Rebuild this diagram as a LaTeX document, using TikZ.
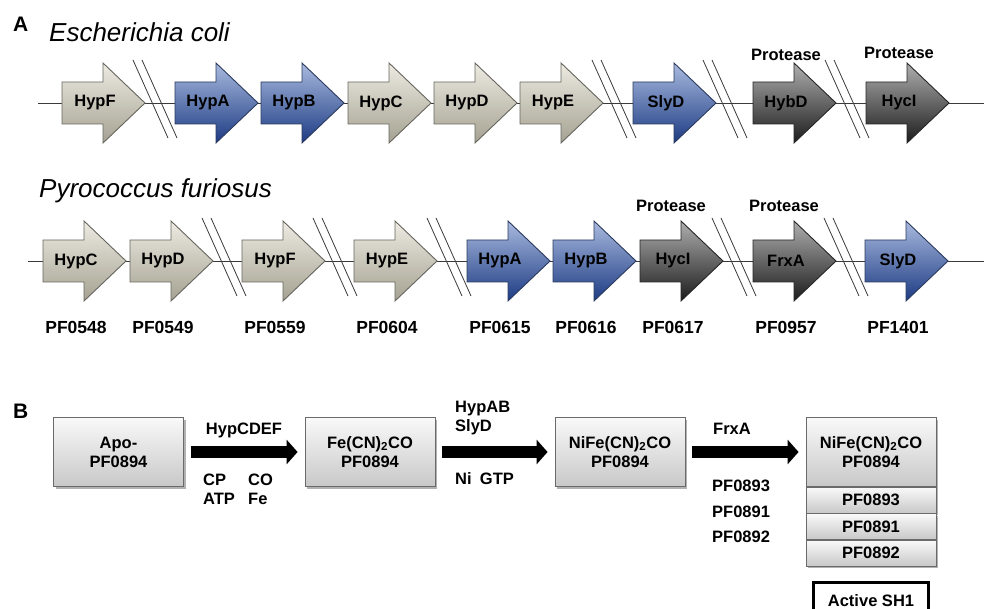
\documentclass[tikz,border=0pt]{standalone}
\usepackage{fontspec}
\setmainfont{Liberation Sans}
\usepackage{tikz}
\usetikzlibrary{arrows.meta,positioning,shadows}
\definecolor{tantop}{HTML}{EDEBE2}
\definecolor{tanbot}{HTML}{A5A292}
\definecolor{tanline}{HTML}{66655E}
\definecolor{bluetop}{HTML}{A9BADF}
\definecolor{bluebot}{HTML}{1D3B83}
\definecolor{blueline}{HTML}{2B3A5E}
\definecolor{darktop}{HTML}{AEAEAE}
\definecolor{darkbot}{HTML}{1C1C1C}
\definecolor{darkline}{HTML}{262626}
\definecolor{boxtop}{HTML}{F9F9F9}
\definecolor{boxbot}{HTML}{C8C8C8}
\definecolor{boxline}{HTML}{6A6A6A}
\definecolor{strand}{HTML}{3A3A3A}
\tikzset{
  tangene/.style ={draw=tanline,line width=0.9pt,top color=tantop,bottom color=tanbot},
  bluegene/.style={draw=blueline,line width=0.9pt,top color=bluetop,bottom color=bluebot},
  darkgene/.style={draw=darkline,line width=0.9pt,top color=darktop,bottom color=darkbot},
  genelbl/.style ={font=\bfseries\fontsize{16.5}{19}\selectfont,inner sep=0pt},
  pflbl/.style   ={font=\bfseries\fontsize{17.5}{19}\selectfont,inner sep=0pt},
  species/.style ={font=\itshape\fontsize{26}{28}\selectfont,inner sep=0pt,anchor=base west},
  panel/.style   ={font=\bfseries\fontsize{21}{24}\selectfont,inner sep=0pt,anchor=base west},
  dna/.style     ={draw=strand,line width=0.9pt},
  brk/.style     ={draw=strand,line width=0.8pt},
  stage/.style   ={draw=boxline,line width=0.8pt,top color=boxtop,bottom color=boxbot,
                   minimum width=130,minimum height=69,align=center,inner sep=2pt,
                   font=\bfseries\fontsize{16.5}{19}\selectfont,
                   drop shadow={shadow xshift=2pt,shadow yshift=-2pt,opacity=0.3,fill=black}},
  sub/.style     ={stage,minimum height=25.7},
  conv/.style    ={line width=12pt,-{Triangle[length=11pt,width=24pt]},
                   shorten <=7pt,shorten >=7pt},
  note/.style    ={font=\bfseries\fontsize{16.5}{19}\selectfont,inner sep=0pt,
                   anchor=west,align=left}
}

\begin{document}
\begin{tikzpicture}[x=1pt,y=-1pt]
  \useasboundingbox (0,0) rectangle (984,609);
  \clip (0,0) rectangle (984,609);

  \node[panel] (pa) at (13,32) {A};
  \node[species] (eco) at (49,42) {Escherichia coli};
  \draw[dna] (38,103) -- (984,103);
  \foreach \x/\g/\s in {62/HypF/tangene,175/HypA/bluegene,261/HypB/bluegene,
      348/HypC/tangene,434/HypD/tangene,520/HypE/tangene,633/SlyD/bluegene,
      753/HybD/darkgene,866/HycI/darkgene}{
    \draw[\s] (\x,82) -- ++(41,0) -- ++(0,-19) -- ++(42,40) -- ++(-42,40)
      -- ++(0,-19) -- ++(-41,0) -- cycle;
    \node[genelbl] (e\g) at (\x+33,103) {\g};
  }
  \foreach \t in {133,592,703,825}
    \draw[brk] (\t,60) -- ++(35,78) (\t+9,60) -- ++(35,78);
  \node[genelbl] (eprot1) at (786,55) {Protease};
  \node[genelbl] (eprot2) at (899,53) {Protease};

  \node[species] (pfu) at (39,198) {Pyrococcus furiosus};
  \draw[dna] (28,261) -- (984,261);
  \foreach \x/\g/\s/\p in {43/HypC/tangene/PF0548,130/HypD/tangene/PF0549,
      242/HypF/tangene/PF0559,354/HypE/tangene/PF0604,467/HypA/bluegene/PF0615,
      553/HypB/bluegene/PF0616,640/HycI/darkgene/PF0617,753/FrxA/darkgene/PF0957,
      865/SlyD/bluegene/PF1401}{
    \draw[\s] (\x,240) -- ++(41,0) -- ++(0,-19) -- ++(42,40) -- ++(-42,40)
      -- ++(0,-19) -- ++(-41,0) -- cycle;
    \node[genelbl] (p\g) at (\x+33,261) {\g};
    \node[pflbl] (n\p) at (\x+33,327) {\p};
  }
  \foreach \t in {202,313,427,712,824}
    \draw[brk] (\t,218) -- ++(35,78) (\t+9,218) -- ++(35,78);
  \node[genelbl] (pprot1) at (671,206) {Protease};
  \node[genelbl] (pprot2) at (784,206) {Protease};

  \node[panel] (pb) at (13,418) {B};
  \node[stage] (apo) at (118.5,452) {Apo-\\PF0894};
  \node[stage] (fe) at (370,452) {Fe(CN)\textsubscript{2}CO\\PF0894};
  \node[stage] (nife) at (620,452) {NiFe(CN)\textsubscript{2}CO\\PF0894};
  \node[stage] (sh1) at (871,452) {NiFe(CN)\textsubscript{2}CO\\PF0894};
  \node[sub,below=0pt of sh1] (s93) {PF0893};
  \node[sub,below=0pt of s93] (s91) {PF0891};
  \node[sub,below=0pt of s91] (s92) {PF0892};
  \node[draw=black,line width=2.5pt,fill=white,minimum width=115,minimum height=36,
        anchor=north,font=\bfseries\fontsize{16.5}{19}\selectfont] (act) at (871,581) {Active SH1};

  \draw[conv] (apo) -- (fe);
  \draw[conv] (fe) -- (nife);
  \draw[conv] (nife) -- (sh1);

  \node[note,anchor=center] (cdef) at (244,430) {HypCDEF};
  \node[note] (cpatp) at (203,489) {CP\\ATP};
  \node[note] (cofe) at (248,489) {CO\\Fe};
  \node[note] (absly) at (455,418.5) {HypAB\\SlyD};
  \node[note] (nigtp) at (455,479) {Ni\enspace GTP};
  \node[note] (frxa) at (713,429) {FrxA};
  \node[note] (f93) at (712,486) {PF0893};
  \node[note] (f91) at (712,512) {PF0891};
  \node[note] (f92) at (712,537) {PF0892};
\end{tikzpicture}
\end{document}
